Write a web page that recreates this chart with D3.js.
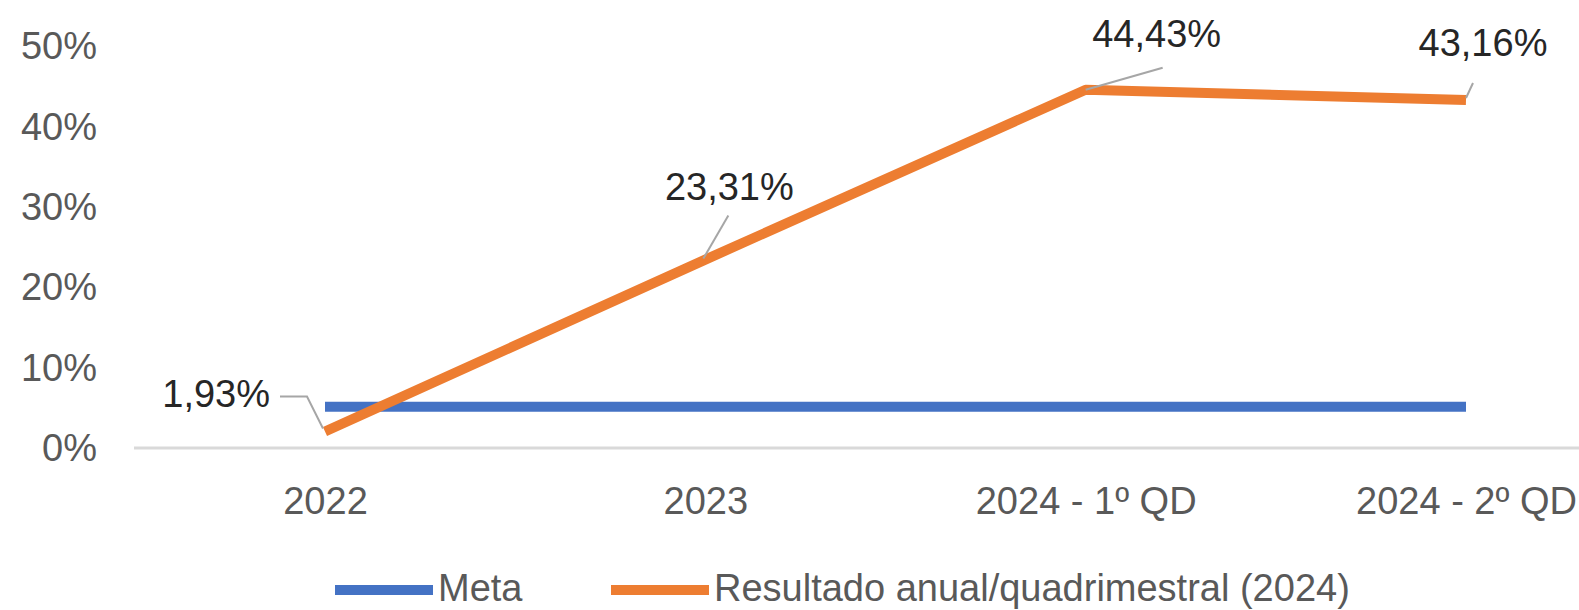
<!DOCTYPE html>
<html><head><meta charset="utf-8">
<script src="https://cdn.jsdelivr.net/npm/d3@7"></script>
<style>html,body{margin:0;padding:0;background:#fff;overflow:hidden}</style>
</head><body>
<svg id="c" width="1579" height="610"></svg>
<script>
const categories = ["2022", "2023", "2024 - 1º QD", "2024 - 2º QD"];
const metaValues = [5, 5, 5, 5];
const resultValues = [1.93, 23.31, 44.43, 43.16];
const resultLabels = ["1,93%", "23,31%", "44,43%", "43,16%"];
const yTicks = [0, 10, 20, 30, 40, 50];
const seriesNames = ["Meta", "Resultado anual/quadrimestral (2024)"];

// label placement relative to the point (style config)
const labelOffsets = [
  {dx: -55, dy: -24, anchor: "end", leader: [[-45, -35], [-18, -35], [-2, -3]]},
  {dx: 24, dy: -60, anchor: "middle", leader: [[23, -44], [-2, -1]]},
  {dx: 71, dy: -43, anchor: "middle", leader: [[77, -22], [0, 0]]},
  {dx: 17, dy: -44, anchor: "middle", leader: [[7, -17], [0, -2]]}
];

const svg = d3.select("#c");
const font = "'Liberation Sans', Arial, sans-serif";
const x = d3.scalePoint().domain(categories).range([325, 1466]);
const y = d3.scaleLinear().domain([0, 50]).range([447, 45]);

// axis line at 0
svg.append("line").attr("x1", 134).attr("x2", 1579).attr("y1", y(0) + 1).attr("y2", y(0) + 1)
  .attr("stroke", "#d9d9d9").attr("stroke-width", 3);

// y axis labels
const yAxis = d3.axisLeft(y).tickValues(yTicks).tickFormat(d => d + "%").tickSize(0).tickPadding(0);
const gy = svg.append("g").attr("transform", "translate(97,0)").call(yAxis);
gy.select(".domain").remove();
gy.selectAll("text").attr("font-family", font).attr("font-size", 38).attr("fill", "#595959").attr("dy", "0.36em");

// x axis labels
const xAxis = d3.axisBottom(x).tickSize(0).tickPadding(0);
const gx = svg.append("g").attr("transform", "translate(0,487)").call(xAxis);
gx.select(".domain").remove();
gx.selectAll("text").attr("font-family", font).attr("font-size", 38).attr("fill", "#595959").attr("dy", "0.71em");

const line = d3.line().x((d, i) => x(categories[i])).y(d => y(d));

svg.append("path").datum(metaValues).attr("d", line).attr("fill", "none")
  .attr("stroke", "#4472C4").attr("stroke-width", 10);
svg.append("path").datum(resultValues).attr("d", line).attr("fill", "none")
  .attr("stroke", "#ED7D31").attr("stroke-width", 10).attr("stroke-linejoin", "round");

// leader lines and data labels
resultValues.forEach((v, i) => {
  const px = x(categories[i]), py = y(v);
  const o = labelOffsets[i];
  svg.append("path")
    .attr("d", d3.line()(o.leader.map(p => [px + p[0], py + p[1]])))
    .attr("fill", "none").attr("stroke", "#a6a6a6").attr("stroke-width", 2);
  svg.append("text").attr("x", px + o.dx).attr("y", py + o.dy)
    .attr("text-anchor", o.anchor).attr("font-family", font).attr("font-size", 38)
    .attr("fill", "#262626").text(resultLabels[i]);
});

// legend
const legendColors = ["#4472C4", "#ED7D31"];
const legendX = [335, 611];
seriesNames.forEach((n, i) => {
  svg.append("line").attr("x1", legendX[i]).attr("x2", legendX[i] + 98).attr("y1", 590).attr("y2", 590)
    .attr("stroke", legendColors[i]).attr("stroke-width", 10);
  svg.append("text").attr("x", legendX[i] + 103).attr("y", 601)
    .attr("font-family", font).attr("font-size", 38).attr("fill", "#595959").text(n);
});
</script>
</body></html>
